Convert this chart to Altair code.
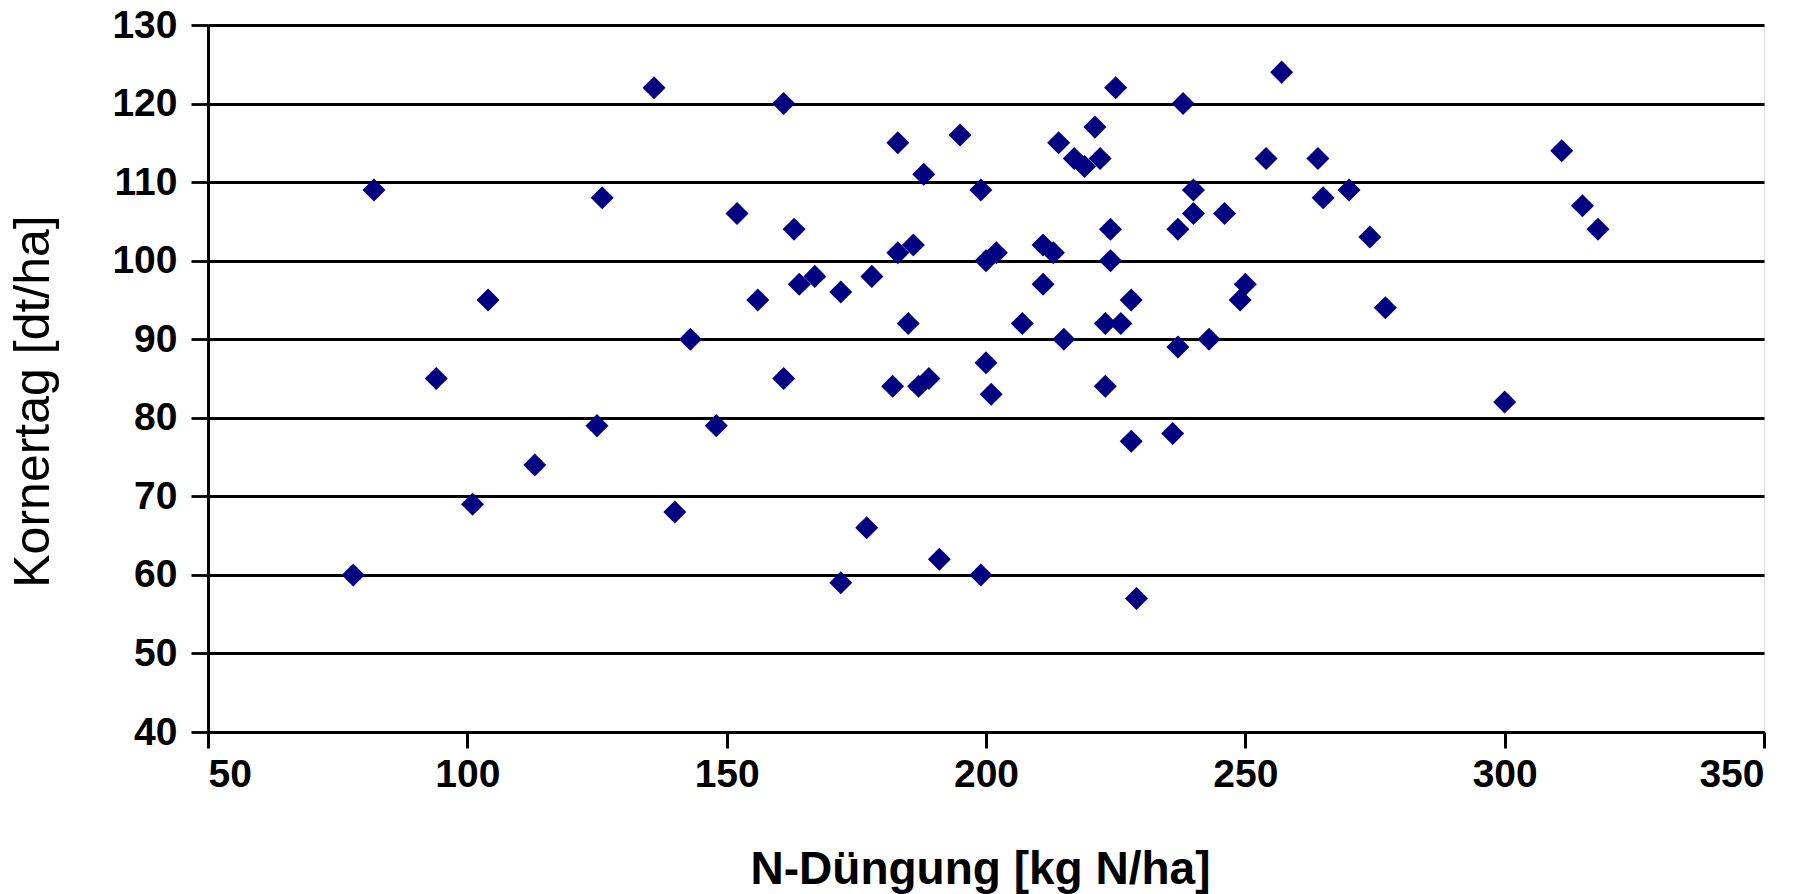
import altair as alt
import pandas as pd

# N-Düngung [kg N/ha]
n_duengung = [78, 82, 94, 101, 104, 113, 125, 126, 136, 140, 143, 148, 152, 156,
              161, 161, 163, 164, 167, 172, 172, 177, 178, 182, 183, 183, 185, 186,
              188, 187, 189, 191, 195, 199, 200, 199, 200, 201, 202, 207, 211, 211,
              213, 214, 215, 217, 219, 221, 222, 223, 224, 224, 223, 225, 226, 228,
              228, 229, 236, 237, 237, 238, 240, 240, 243, 246, 249, 250, 257, 254,
              264, 265, 270, 274, 277, 300, 311, 315, 318]
# Kornertag [dt/ha]
kornertag = [60, 109, 85, 69, 95, 74, 79, 108, 122, 68, 90, 79, 106, 95,
             120, 85, 104, 97, 98, 59, 96, 66, 98, 84, 101, 115, 92, 102,
             111, 84, 85, 62, 116, 109, 100, 60, 87, 83, 101, 92, 102, 97,
             101, 115, 90, 113, 112, 117, 113, 84, 104, 100, 92, 122, 92, 95,
             77, 57, 78, 104, 89, 120, 109, 106, 90, 106, 95, 97, 124, 113,
             113, 108, 109, 103, 94, 82, 114, 107, 104]

x_ticks = [50, 100, 150, 200, 250, 300, 350]
y_ticks = [40, 50, 60, 70, 80, 90, 100, 110, 120, 130]

df = pd.DataFrame({"N": n_duengung, "K": kornertag})

FONT = "Liberation Sans"

chart = alt.Chart(df).mark_point(
    shape="diamond", filled=True, color="#000080", size=530, opacity=1
).encode(
    x=alt.X("N:Q", scale=alt.Scale(domain=[50, 350], nice=False, zero=False),
            axis=alt.Axis(values=x_ticks, grid=False, title="N-Düngung [kg N/ha]",
                          tickColor="black", tickWidth=3, tickSize=16,
                          domainColor="black", domainWidth=3,
                          labelFont=FONT, labelFontWeight="bold", labelFontSize=39,
                          labelColor="black", labelPadding=7,
                          titleFont=FONT, titleFontWeight="bold", titleFontSize=46,
                          titleColor="black", titleY=115, titleX=772)),
    y=alt.Y("K:Q", scale=alt.Scale(domain=[40, 130], nice=False, zero=False),
            axis=alt.Axis(values=y_ticks, grid=True, gridColor="black", gridWidth=2.8,
                          gridOpacity=1, title="Kornertag [dt/ha]",
                          tickColor="black", tickWidth=2.8, tickSize=17,
                          domainColor="black", domainWidth=3,
                          labelFont=FONT, labelFontWeight="bold", labelFontSize=39,
                          labelColor="black", labelPadding=14,
                          titleFont=FONT, titleFontWeight="normal", titleFontSize=50,
                          titleColor="black", titleX=-150, titleY=376)),
).properties(
    width=1556, height=707,
    autosize=alt.AutoSizeParams(type="none"),
    padding={"left": 208, "top": 25, "right": 52, "bottom": 162},
).configure_view(stroke="black", strokeWidth=3).configure(background="white")

chart.save("out.html", embed_options={"renderer": "svg", "actions": False})
